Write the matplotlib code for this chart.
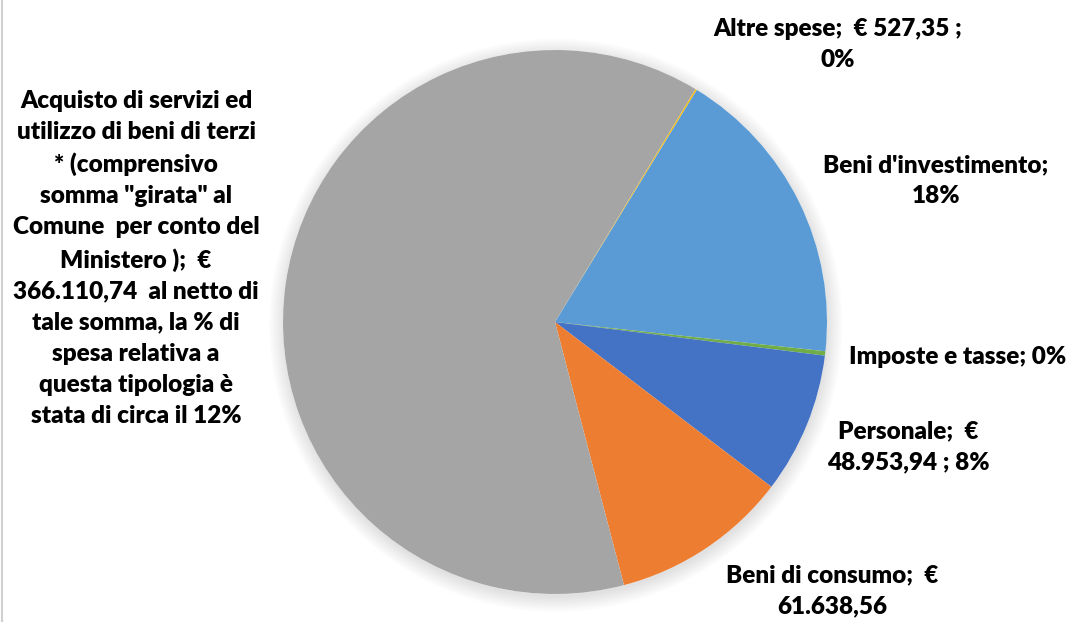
import matplotlib
matplotlib.use("Agg")
import matplotlib.pyplot as plt
from matplotlib.patches import Circle
from matplotlib.lines import Line2D

plt.rcParams["font.family"] = ["Lato", "DejaVu Sans"]

# Slices in drawing order (clockwise, starting at the top-right boundary)
categories = ["Altre spese", "Beni d'investimento", "Imposte e tasse",
              "Personale", "Beni di consumo", "Acquisto di servizi"]
values = [527.35, 105000.0, 1500.0, 48953.94, 61638.56, 366110.74]
colors = ["#FFC000", "#5B9BD5", "#70AD47", "#4472C4", "#ED7D31", "#A5A5A5"]

labels = [
    "Altre spese;  € 527,35 ;\n0%",
    "Beni d'investimento;\n18%",
    "Imposte e tasse; 0%",
    "Personale;  €\n48.953,94 ; 8%",
    "Beni di consumo;  €\n61.638,56",
    "Acquisto di servizi ed\nutilizzo di beni di terzi\n* (comprensivo\n"
    "somma \"girata\" al\nComune  per conto del\nMinistero );  €\n"
    "366.110,74  al netto di\ntale somma, la % di\nspesa relativa a\n"
    "questa tipologia è\nstata di circa il 12%",
]
# label centres in pie-radius units
label_pos = [(1.04, 1.02), (1.40, 0.52), (1.48, -0.13),
             (1.30, -0.46), (1.02, -0.99), (-1.54, 0.235)]

W, H = 1072, 622
cx, cy, R = 555, 322, 272

fig = plt.figure(figsize=(W / 100, H / 100), dpi=100)
ax = fig.add_axes([0, 0, 1, 1])

# soft shadow round the pie
for k in range(10):
    ax.add_patch(Circle((0.003, -0.012), 1.0 + k * 0.006, color="black",
                        alpha=0.012, lw=0, zorder=0))
ax.add_patch(Circle((0, 0), 1.0, color="white", lw=0, zorder=0.5))

start = 90 - 31.1
ax.pie(values, colors=colors, startangle=start, counterclock=False,
       radius=1.0, center=(0, 0), frame=True,
       wedgeprops=dict(linewidth=0.3, edgecolor="none"))
ax.set_xlim(-cx / R, (W - cx) / R)
ax.set_ylim((cy - H) / R, cy / R)
ax.set_aspect("auto")
ax.axis("off")

for text, (x, y) in zip(labels, label_pos):
    ax.text(x, y, text, ha="center", va="center", fontsize=17.5,
            fontweight="heavy", color="black", linespacing=1.5, zorder=5)

fig.add_artist(Line2D([0.0019, 0.0019], [0, 1], color="#D0D0D0", lw=1.5))

fig.savefig("out.png", dpi=100, facecolor="white")
plt.close(fig)
